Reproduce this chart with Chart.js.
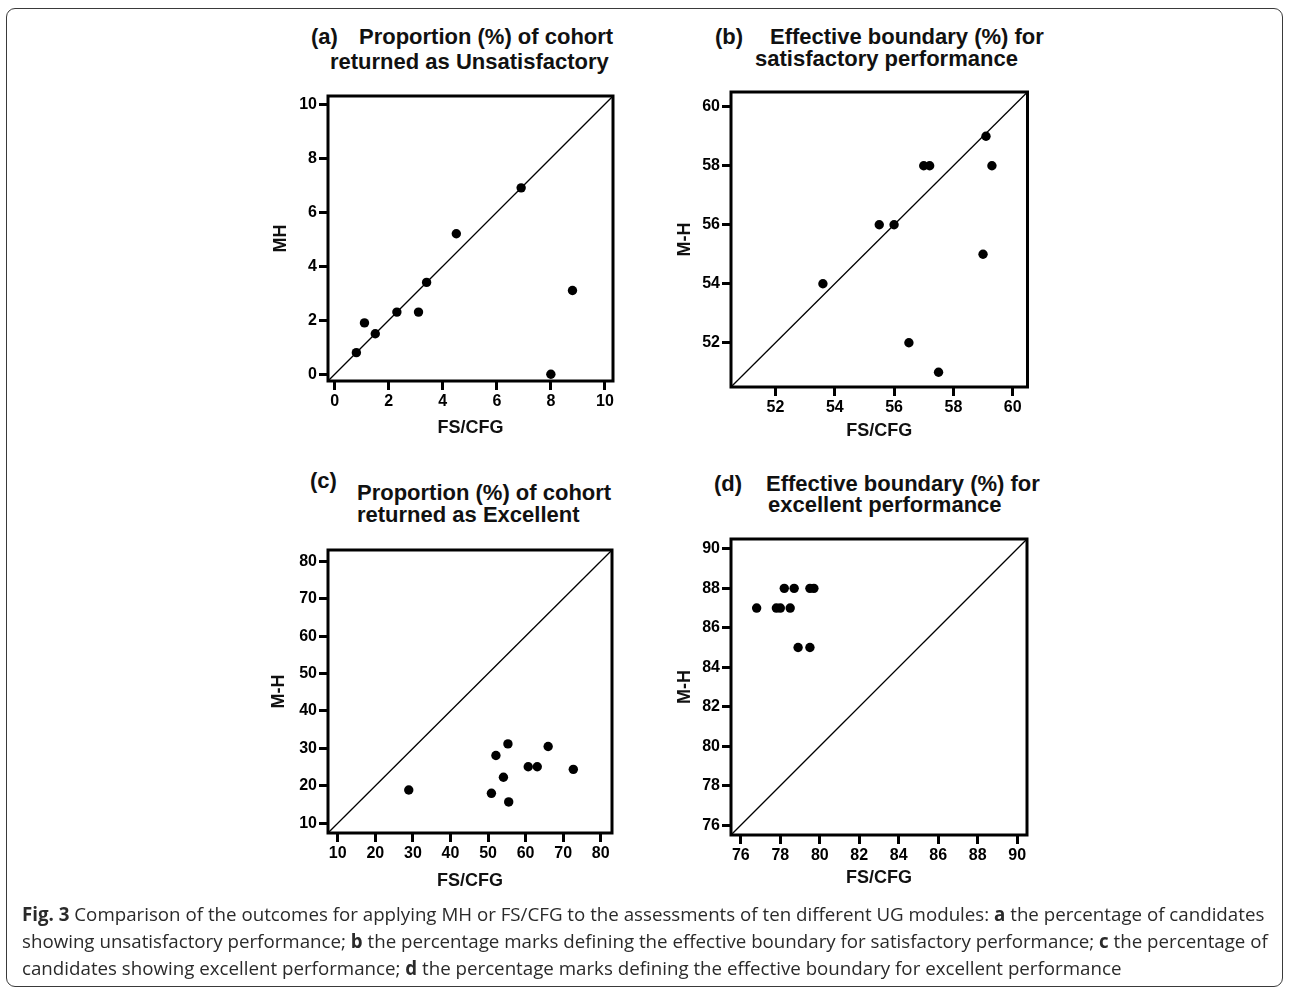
<!DOCTYPE html>
<html>
<head>
<meta charset="utf-8">
<script src="https://cdn.jsdelivr.net/npm/chart.js@4.4.1/dist/chart.umd.min.js"></script>
<style>
  html, body { margin:0; padding:0; background:#fff; }
  body { width:1289px; height:989px; position:relative; overflow:hidden; }
  #frame { position:absolute; left:6px; top:8px; width:1275px; height:977px; border:1.5px solid #3a3a3a; border-radius:9px; }
  canvas { position:absolute; }
  .t { position:absolute; font-family:"Liberation Sans", Arial, sans-serif; font-weight:bold; font-size:22px; line-height:22px; white-space:pre; color:#111; }
  .cap { position:absolute; left:22px; font-family:"Open Sans", "DejaVu Sans", sans-serif; font-size:18.5px; line-height:18.5px; white-space:pre; color:#2a2a2a; }
  .cap b { font-weight:bold; }
</style>
</head>
<body>
<div id="frame"></div>

<!-- panel titles -->
<div class="t" style="left:311px; top:26.4px;">(a)</div>
<div class="t" style="left:359px; top:26.4px;">Proportion (%) of cohort</div>
<div class="t" style="left:330px; top:50.7px;">returned as Unsatisfactory</div>

<div class="t" style="left:715px; top:26.4px;">(b)</div>
<div class="t" style="left:770px; top:26.4px;">Effective boundary (%) for</div>
<div class="t" style="left:755px; top:48.3px;">satisfactory performance</div>

<div class="t" style="left:310px; top:469.5px;">(c)</div>
<div class="t" style="left:357px; top:482.1px;">Proportion (%) of cohort</div>
<div class="t" style="left:357px; top:504.1px;">returned as Excellent</div>

<div class="t" style="left:714px; top:473.1px;">(d)</div>
<div class="t" style="left:766px; top:473.1px;">Effective boundary (%) for</div>
<div class="t" style="left:768px; top:494.1px;">excellent performance</div>

<canvas id="cA"></canvas>
<canvas id="cB"></canvas>
<canvas id="cC"></canvas>
<canvas id="cD"></canvas>

<div class="cap" id="cap1" style="top:907px;"><b>Fig. 3</b> Comparison of the outcomes for applying MH or FS/CFG to the assessments of ten different UG modules: <b>a</b> the percentage of candidates</div>
<div class="cap" id="cap2" style="top:934px;">showing unsatisfactory performance; <b>b</b> the percentage marks defining the effective boundary for satisfactory performance; <b>c</b> the percentage of</div>
<div class="cap" id="cap3" style="top:961px;">candidates showing excellent performance; <b>d</b> the percentage marks defining the effective boundary for excellent performance</div>

<script>
// ---------------- data ----------------
const xA = [0.8, 1.1, 1.5, 2.3, 3.1, 3.4, 4.5, 6.9, 8.8, 8.0];
const yA = [0.8, 1.9, 1.5, 2.3, 2.3, 3.4, 5.2, 6.9, 3.1, 0.0];
const xB = [53.6, 55.5, 56.0, 57.0, 57.2, 59.1, 59.3, 59.0, 56.5, 57.5];
const yB = [54, 56, 56, 58, 58, 59, 58, 55, 52, 51];
const xC = [28.9, 50.9, 52.1, 55.3, 54.1, 55.5, 60.7, 63.1, 66.0, 72.7];
const yC = [18.9, 18.0, 28.1, 31.2, 22.3, 15.7, 25.1, 25.1, 30.5, 24.4];
const xD = [76.8, 77.8, 78.0, 78.5, 78.2, 78.7, 79.5, 79.7, 78.9, 79.5];
const yD = [87, 87, 87, 87, 88, 88, 88, 88, 85, 85];

const ticksA = [0, 2, 4, 6, 8, 10];
const ticksB = [52, 54, 56, 58, 60];
const ticksC = [10, 20, 30, 40, 50, 60, 70, 80];
const ticksD = [76, 78, 80, 82, 84, 86, 88, 90];

const rangeA = [-0.25, 10.3];
const rangeB = [50.5, 60.5];
const rangeC = [7.4, 83];
const rangeD = [75.5, 90.5];

const yTitleA = 'MH', yTitleB = 'M-H', yTitleC = 'M-H', yTitleD = 'M-H';
const xTitle = 'FS/CFG';

// ---------------- layout (chart area boxes, page px) ----------------
const FONT = '"Liberation Sans", Arial, sans-serif';
const Y_AXIS_W = 72, X_AXIS_H = 70, PAD_TOP = 16, PAD_RIGHT = 28;
const TITLE_SIZE = 18, TITLE_LH = TITLE_SIZE * 1.2;

const boxPlugin = {
  id: 'frameBox',
  beforeDatasetsDraw(chart) {
    const a = chart.chartArea, ctx = chart.ctx;
    ctx.save();
    ctx.strokeStyle = '#000';
    ctx.lineWidth = 3;
    ctx.lineJoin = 'miter';
    ctx.strokeRect(a.left, a.top, a.right - a.left, a.bottom - a.top);
    ctx.restore();
  }
};

function makePanel(id, geo, xs, ys, ticks, range, yTitle) {
  const cv = document.getElementById(id);
  const left = geo.L - Y_AXIS_W, top = geo.T - PAD_TOP;
  const w = Math.round(geo.R + PAD_RIGHT - left), h = Math.round(geo.B + X_AXIS_H - top);
  cv.width = w; cv.height = h;
  cv.style.left = left + 'px'; cv.style.top = top + 'px';
  cv.style.width = w + 'px'; cv.style.height = h + 'px';
  const padR = w - (geo.R - left);
  const padT = geo.T - top;
  const xAxisH = (top + h) - geo.B;
  const yAxisW = geo.L - left;
  const yTitlePad = geo.yTitleX - left - TITLE_LH / 2;
  const xTitlePad = (top + h) - geo.xTitleY - TITLE_LH / 2;

  const pts = xs.map((x, i) => ({ x: x, y: ys[i] }));
  const diag = [{ x: range[0], y: range[0] }, { x: range[1], y: range[1] }];
  const tickFont = { family: FONT, size: 16, weight: 'bold' };
  const titleFont = { family: FONT, size: TITLE_SIZE, weight: 'bold', lineHeight: 1.2 };
  const gridCfg = { display: true, drawOnChartArea: false, drawTicks: true, tickLength: 9, lineWidth: 3, color: '#000', tickColor: '#000' };

  new Chart(cv, {
    type: 'scatter',
    data: {
      datasets: [
        { data: diag, showLine: true, borderColor: '#000', borderWidth: 1.3, pointRadius: 0, pointHoverRadius: 0, fill: false },
        { data: pts, backgroundColor: '#000', borderColor: '#000', borderWidth: 0, pointRadius: 4.7, pointHoverRadius: 4.7 }
      ]
    },
    options: {
      responsive: false,
      animation: false,
      devicePixelRatio: 1,
      layout: { padding: { top: padT, right: padR, left: 0, bottom: 0 } },
      plugins: { legend: { display: false }, tooltip: { enabled: false } },
      events: [],
      scales: {
        x: {
          type: 'linear', min: range[0], max: range[1],
          afterBuildTicks: s => { s.ticks = ticks.map(v => ({ value: v })); },
          afterFit: s => { s.height = xAxisH; },
          grid: gridCfg,
          border: { display: false },
          ticks: { color: '#000', font: tickFont, padding: 2, maxRotation: 0, autoSkip: false, callback: v => String(v) },
          title: { display: true, text: xTitle, color: '#111', font: titleFont, padding: { top: 0, bottom: xTitlePad } }
        },
        y: {
          type: 'linear', min: range[0], max: range[1],
          afterBuildTicks: s => { s.ticks = ticks.map(v => ({ value: v })); },
          afterFit: s => { s.width = yAxisW; },
          grid: gridCfg,
          border: { display: false },
          ticks: { color: '#000', font: tickFont, padding: 2, autoSkip: false, callback: v => String(v) },
          title: { display: true, text: yTitle, color: '#111', font: titleFont, padding: { top: yTitlePad, bottom: 0 } }
        }
      }
    },
    plugins: [boxPlugin]
  });
}

makePanel('cA', { L: 327.5, R: 612.5, T: 96, B: 381, yTitleX: 281, xTitleY: 428 }, xA, yA, ticksA, rangeA, yTitleA);
makePanel('cB', { L: 731, R: 1027.5, T: 92, B: 387, yTitleX: 685, xTitleY: 431 }, xB, yB, ticksB, rangeB, yTitleB);
makePanel('cC', { L: 328, R: 612, T: 550, B: 833, yTitleX: 279, xTitleY: 881 }, xC, yC, ticksC, rangeC, yTitleC);
makePanel('cD', { L: 731, R: 1027, T: 539, B: 835, yTitleX: 685, xTitleY: 878 }, xD, yD, ticksD, rangeD, yTitleD);

// fit caption width to the reference line width
(function fitCaption() {
  const c1 = document.getElementById('cap1');
  const w = c1.getBoundingClientRect().width;
  const target = 1243;
  const fs = 18.5 * target / w;
  const bases = [922, 949, 976];
  ['cap1', 'cap2', 'cap3'].forEach((id, i) => {
    const el = document.getElementById(id);
    el.style.fontSize = fs + 'px';
    el.style.lineHeight = fs + 'px';
    el.style.top = (bases[i] - 0.888 * fs) + 'px';
  });
})();
</script>
</body>
</html>
